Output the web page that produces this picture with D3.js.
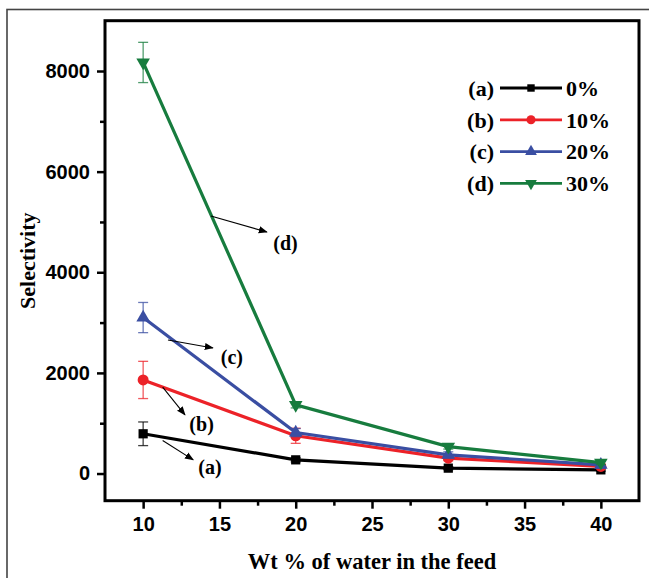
<!DOCTYPE html>
<html>
<head>
<meta charset="utf-8">
<script src="https://cdn.jsdelivr.net/npm/d3@7"></script>
<style>
  html, body { margin: 0; padding: 0; background: #fff; }
  svg { display: block; }
</style>
</head>
<body>
<script>
// values
const waterWt = [10, 20, 30, 40];
const seriesKeys = ["(a)", "(b)", "(c)", "(d)"];
const seriesNames = ["0%", "10%", "20%", "30%"];
const sel0 = [790, 272, 107, 73];
const sel10 = [1860, 750, 306, 140];
const sel20 = [3100, 814, 371, 173];
const sel30 = [8170, 1364, 536, 218];
const err0 = [235, 40, 30, 25];
const err10 = [370, 150, 50, 40];
const err20 = [300, 80, 60, 70];
const err30 = [400, 60, 50, 40];
const yTicks = [0, 2000, 4000, 6000, 8000];
const xTicks = [10, 15, 20, 25, 30, 35, 40];

// arrow annotations (data units): label, from, to, label position
const notes = [
  ["(a)", [11.28, 655], [13.28, 272], [14.38, 133]],
  ["(b)", [11.28, 1716], [12.74, 1166], [13.83, 987]],
  ["(c)", [11.63, 2655], [14.57, 2496], [15.82, 2308]],
  ["(d)", [14.44, 5118], [18.11, 4800], [19.33, 4582]]
];

const colors = ["#000000", "#ec2228", "#3a4ea2", "#177c3e"];
const shapes = [d3.symbolSquare, d3.symbolCircle, d3.symbolTriangle, d3.symbolTriangle];
const allSel = [sel0, sel10, sel20, sel30];
const allErr = [err0, err10, err20, err30];

const width = 649, height = 578;
const padLeft = 105, padRight = 639, padTop = 20.7, padBottom = 500.7;

const svg = d3.select("body").append("svg")
  .attr("width", width)
  .attr("height", height);

// outer frame of the figure
svg.append("rect")
  .attr("x", 7).attr("y", 9.5)
  .attr("width", 700).attr("height", 620)
  .attr("fill", "none")
  .attr("stroke", "#444")
  .attr("stroke-width", 1.6);

const x = d3.scaleLinear().domain([7.5, 42.5]).range([padLeft, padRight]);
const y = d3.scaleLinear().domain([-540, 9000]).range([padBottom, padTop]);

// minor ticks
svg.append("g")
  .attr("transform", "translate(" + padLeft + ",0)")
  .call(d3.axisLeft(y).tickValues([1000, 3000, 5000, 7000]).tickSize(5).tickFormat(""))
  .call(g => g.select(".domain").remove())
  .selectAll("line").attr("stroke-width", 2.5);

svg.append("g")
  .attr("transform", "translate(0," + padBottom + ")")
  .call(d3.axisBottom(x).tickValues([12.5, 17.5, 22.5, 27.5, 32.5, 37.5]).tickSize(5).tickFormat(""))
  .call(g => g.select(".domain").remove())
  .selectAll("line").attr("stroke-width", 2.5);

// major ticks
const yAxis = svg.append("g")
  .attr("transform", "translate(" + padLeft + ",0)")
  .call(d3.axisLeft(y).tickValues(yTicks).tickFormat(d3.format("d")).tickSize(8).tickPadding(7));
yAxis.select(".domain").remove();
yAxis.selectAll("line").attr("stroke-width", 2.5);
yAxis.selectAll("text")
  .attr("font-family", "'Liberation Sans', Arial, sans-serif")
  .attr("font-weight", "bold")
  .attr("font-size", 20)
  .attr("fill", "#000");

const xAxis = svg.append("g")
  .attr("transform", "translate(0," + padBottom + ")")
  .call(d3.axisBottom(x).tickValues(xTicks).tickFormat(d3.format("d")).tickSize(8).tickPadding(8));
xAxis.select(".domain").remove();
xAxis.selectAll("line").attr("stroke-width", 2.5);
xAxis.selectAll("text")
  .attr("font-family", "'Liberation Sans', Arial, sans-serif")
  .attr("font-weight", "bold")
  .attr("font-size", 20)
  .attr("fill", "#000");

// plot box
svg.append("rect")
  .attr("x", padLeft).attr("y", padTop)
  .attr("width", padRight - padLeft).attr("height", padBottom - padTop)
  .attr("fill", "none")
  .attr("stroke", "#000")
  .attr("stroke-width", 3);

// arrow head
svg.append("defs").append("marker")
  .attr("id", "arrow")
  .attr("viewBox", "0 0 10 10")
  .attr("refX", 9).attr("refY", 5)
  .attr("markerWidth", 9).attr("markerHeight", 9)
  .attr("markerUnits", "userSpaceOnUse")
  .attr("orient", "auto")
  .append("path")
  .attr("d", "M0,1 L10,5 L0,9 Z")
  .attr("fill", "#000");

const line = d3.line()
  .x((d, i) => x(waterWt[i]))
  .y(d => y(d));

allSel.forEach((vals, s) => {
  const g = svg.append("g");
  const col = colors[s];
  // error bars
  vals.forEach((v, i) => {
    const e = allErr[s][i];
    const cx = x(waterWt[i]);
    const eb = g.append("g")
      .attr("stroke", col)
      .attr("stroke-opacity", 0.75)
      .attr("stroke-width", 1.3);
    eb.append("line").attr("x1", cx).attr("x2", cx).attr("y1", y(v - e)).attr("y2", y(v + e));
    eb.append("line").attr("x1", cx - 5).attr("x2", cx + 5).attr("y1", y(v - e)).attr("y2", y(v - e));
    eb.append("line").attr("x1", cx - 5).attr("x2", cx + 5).attr("y1", y(v + e)).attr("y2", y(v + e));
  });
  g.append("path")
    .datum(vals)
    .attr("d", line)
    .attr("fill", "none")
    .attr("stroke", col)
    .attr("stroke-width", 3.2);
  const sizes = [85, 95, 80, 80];
  g.selectAll(".pt")
    .data(vals)
    .enter()
    .append("path")
    .attr("d", d3.symbol().type(shapes[s]).size(sizes[s]))
    .attr("transform", (d, i) => "translate(" + x(waterWt[i]) + "," + y(d) + ")" + (s === 3 ? " rotate(180)" : ""))
    .attr("fill", col);
});

// annotations
const serif = "'Liberation Serif', 'Times New Roman', serif";
notes.forEach(n => {
  svg.append("line")
    .attr("x1", x(n[1][0])).attr("y1", y(n[1][1]))
    .attr("x2", x(n[2][0])).attr("y2", y(n[2][1]))
    .attr("stroke", "#000")
    .attr("stroke-width", 1.1)
    .attr("marker-end", "url(#arrow)");
  svg.append("text")
    .attr("x", x(n[3][0])).attr("y", y(n[3][1]))
    .attr("dy", "0.35em")
    .attr("text-anchor", "middle")
    .attr("font-family", serif)
    .attr("font-weight", "bold")
    .attr("font-size", 20)
    .text(n[0]);
});

// legend
const legend = svg.append("g");
const legSizes = [55, 65, 60, 60];
seriesKeys.forEach((k, s) => {
  const ly = 88 + s * 31.8;
  legend.append("text")
    .attr("x", 494).attr("y", ly)
    .attr("dy", "0.35em")
    .attr("text-anchor", "end")
    .attr("font-family", serif)
    .attr("font-weight", "bold")
    .attr("font-size", 22)
    .text(k);
  legend.append("line")
    .attr("x1", 500).attr("x2", 562)
    .attr("y1", ly).attr("y2", ly)
    .attr("stroke", colors[s])
    .attr("stroke-width", 2.8);
  legend.append("path")
    .attr("d", d3.symbol().type(shapes[s]).size(legSizes[s]))
    .attr("transform", "translate(531," + ly + ")" + (s === 3 ? " rotate(180)" : ""))
    .attr("fill", colors[s]);
  legend.append("text")
    .attr("x", 566).attr("y", ly)
    .attr("dy", "0.35em")
    .attr("font-family", serif)
    .attr("font-weight", "bold")
    .attr("font-size", 22)
    .text(seriesNames[s]);
});

// axis titles
svg.append("text")
  .attr("transform", "translate(27," + ((padTop + padBottom) / 2) + ") rotate(-90)")
  .attr("dy", "0.35em")
  .attr("text-anchor", "middle")
  .attr("font-family", serif)
  .attr("font-weight", "bold")
  .attr("font-size", 22)
  .text("Selectivity");

svg.append("text")
  .attr("x", (padLeft + padRight) / 2)
  .attr("y", 569)
  .attr("text-anchor", "middle")
  .attr("font-family", serif)
  .attr("font-weight", "bold")
  .attr("font-size", 22.5)
  .text("Wt % of water in the feed");
</script>
</body>
</html>
